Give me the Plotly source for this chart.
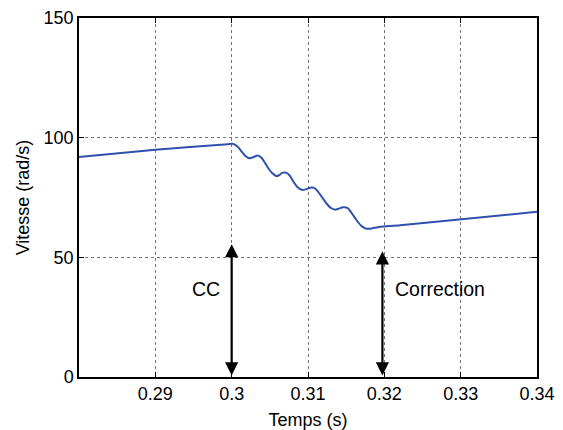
import plotly.graph_objects as go

# Speed curve (time in s, speed in rad/s)
t = [0.28, 0.29, 0.2995, 0.3002, 0.3008, 0.3013, 0.3018, 0.3023, 0.3029, 0.3034, 0.3039,
     0.3044, 0.3048, 0.3053, 0.3058, 0.3062, 0.3066, 0.3071, 0.3076, 0.3081, 0.3086,
     0.3092, 0.3097, 0.3103, 0.3108, 0.3112, 0.3118, 0.3124, 0.3130, 0.3136, 0.3140,
     0.3146, 0.3152, 0.3157, 0.3163, 0.3169, 0.3175, 0.3180, 0.3184, 0.3190, 0.3195,
     0.3221, 0.34]
v = [91.9, 95.0, 97.3, 97.4, 96.2, 94.2, 92.3, 91.4, 91.9, 92.5, 91.6,
     89.3, 87.2, 85.2, 84.0, 84.3, 85.3, 85.4, 84.2, 81.6, 79.4,
     78.2, 78.4, 79.1, 79.0, 77.9, 75.3, 72.6, 70.6, 69.9, 70.3,
     70.9, 70.6, 68.6, 65.8, 63.4, 62.1, 61.9, 62.1, 62.5, 62.8,
     63.4, 69.0]

x_ticks = [0.29, 0.30, 0.31, 0.32, 0.33, 0.34]
x_tick_labels = ["0.29", "0.3", "0.31", "0.32", "0.33", "0.34"]
y_ticks = [0, 50, 100, 150]

# Double-headed arrows: (time, bottom, top)
arrow_cc = (0.3, 0, 55.5)
arrow_corr = (0.31975, 0, 52.5)
label_cc = ("CC", 0.2966, 36.9)
label_corr = ("Correction", 0.3273, 36.9)

FONT = "Liberation Sans, Arial, sans-serif"

fig = go.Figure()
fig.add_trace(go.Scatter(x=t, y=v, mode="lines",
                         line=dict(color="#3050b0", width=2, shape="spline", smoothing=0.6),
                         showlegend=False, hoverinfo="skip"))

for (xa, y0, y1) in [arrow_cc, arrow_corr]:
    fig.add_annotation(x=xa, y=y1, ax=xa, ay=y0, xref="x", yref="y", axref="x", ayref="y",
                       showarrow=True, arrowhead=2, arrowside="end+start", arrowsize=1.2,
                       arrowwidth=2.2, arrowcolor="black", text="")

for (txt, xl, yl) in [label_cc, label_corr]:
    fig.add_annotation(x=xl, y=yl, xref="x", yref="y", text=txt, showarrow=False,
                       font=dict(size=19.5, color="black", family=FONT))

axis_common = dict(showline=True, linecolor="black", linewidth=1.5, mirror="ticks",
                   ticks="inside", ticklen=5, tickcolor="black", tickwidth=1,
                   showgrid=True, gridcolor="#777777", griddash="dot", gridwidth=1,
                   zeroline=False, tickfont=dict(size=18, color="black", family=FONT))

fig.update_xaxes(range=[0.28, 0.34], tickvals=x_ticks, ticktext=x_tick_labels,
                 title=dict(text="Temps (s)", font=dict(size=18, color="black", family=FONT), standoff=12),
                 **axis_common)
fig.update_yaxes(range=[0, 150], tickvals=y_ticks,
                 title=dict(text="Vitesse (rad/s)", font=dict(size=18, color="black", family=FONT), standoff=9),
                 **axis_common)

fig.update_layout(width=563, height=430, paper_bgcolor="white", plot_bgcolor="white",
                  margin=dict(l=79, r=26, t=18, b=53, autoexpand=False),
                  font=dict(family=FONT, size=18, color="black"))

fig.write_html("out.html", config={"displayModeBar": False},
               post_script="document.body.style.margin='0';")
